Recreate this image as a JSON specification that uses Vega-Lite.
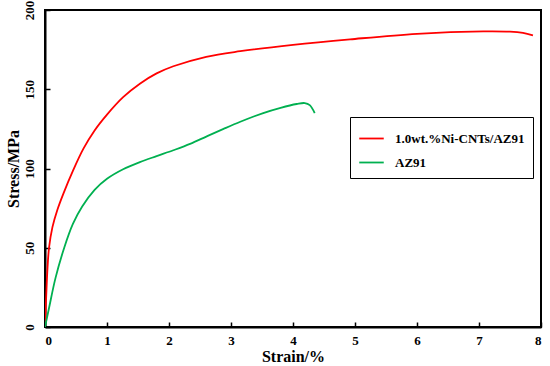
{
  "$schema": "https://vega.github.io/schema/vega-lite/v6.json",
  "width": 496,
  "height": 317,
  "autosize": {"type": "none"},
  "padding": {"left": 45, "top": 10, "right": 9, "bottom": 39},
  "config": {
    "view": {"stroke": "black", "strokeWidth": 2},
    "font": "Liberation Serif",
    "axis": {
      "grid": false,
      "domainColor": "black",
      "domainWidth": 2,
      "tickColor": "black",
      "tickWidth": 1.5,
      "tickSize": -5,
      "labelFont": "Liberation Serif",
      "labelFontWeight": "bold",
      "labelFontSize": 13,
      "labelColor": "black",
      "titleFont": "Liberation Serif",
      "titleFontWeight": "bold",
      "titleFontSize": 16,
      "titleColor": "black"
    }
  },
  "data": {
    "values": [
      {"strain": 0, "stress": 0, "series": "1.0wt.%Ni-CNTs/AZ91"},
      {"strain": 0.02, "stress": 20, "series": "1.0wt.%Ni-CNTs/AZ91"},
      {"strain": 0.04, "stress": 37, "series": "1.0wt.%Ni-CNTs/AZ91"},
      {"strain": 0.065, "stress": 50, "series": "1.0wt.%Ni-CNTs/AZ91"},
      {"strain": 0.12, "stress": 63, "series": "1.0wt.%Ni-CNTs/AZ91"},
      {"strain": 0.2, "stress": 74, "series": "1.0wt.%Ni-CNTs/AZ91"},
      {"strain": 0.3, "stress": 84.5, "series": "1.0wt.%Ni-CNTs/AZ91"},
      {"strain": 0.45, "stress": 98.5, "series": "1.0wt.%Ni-CNTs/AZ91"},
      {"strain": 0.62, "stress": 112.5, "series": "1.0wt.%Ni-CNTs/AZ91"},
      {"strain": 0.8, "stress": 124, "series": "1.0wt.%Ni-CNTs/AZ91"},
      {"strain": 1.0, "stress": 134, "series": "1.0wt.%Ni-CNTs/AZ91"},
      {"strain": 1.26, "stress": 145, "series": "1.0wt.%Ni-CNTs/AZ91"},
      {"strain": 1.53, "stress": 153.5, "series": "1.0wt.%Ni-CNTs/AZ91"},
      {"strain": 1.8, "stress": 160, "series": "1.0wt.%Ni-CNTs/AZ91"},
      {"strain": 2.07, "stress": 164.5, "series": "1.0wt.%Ni-CNTs/AZ91"},
      {"strain": 2.6, "stress": 170.5, "series": "1.0wt.%Ni-CNTs/AZ91"},
      {"strain": 3.15, "stress": 174, "series": "1.0wt.%Ni-CNTs/AZ91"},
      {"strain": 4.0, "stress": 178, "series": "1.0wt.%Ni-CNTs/AZ91"},
      {"strain": 4.92, "stress": 181.5, "series": "1.0wt.%Ni-CNTs/AZ91"},
      {"strain": 6.0, "stress": 185, "series": "1.0wt.%Ni-CNTs/AZ91"},
      {"strain": 7.07, "stress": 186.5, "series": "1.0wt.%Ni-CNTs/AZ91"},
      {"strain": 7.5, "stress": 186.3, "series": "1.0wt.%Ni-CNTs/AZ91"},
      {"strain": 7.71, "stress": 185.5, "series": "1.0wt.%Ni-CNTs/AZ91"},
      {"strain": 7.87, "stress": 184, "series": "1.0wt.%Ni-CNTs/AZ91"},
      {"strain": 0, "stress": 0, "series": "AZ91"},
      {"strain": 0.065, "stress": 12, "series": "AZ91"},
      {"strain": 0.17, "stress": 31, "series": "AZ91"},
      {"strain": 0.31, "stress": 50, "series": "AZ91"},
      {"strain": 0.45, "stress": 65, "series": "AZ91"},
      {"strain": 0.6, "stress": 76, "series": "AZ91"},
      {"strain": 0.8, "stress": 86.5, "series": "AZ91"},
      {"strain": 1.0, "stress": 93.5, "series": "AZ91"},
      {"strain": 1.26, "stress": 99.5, "series": "AZ91"},
      {"strain": 1.53, "stress": 104, "series": "AZ91"},
      {"strain": 1.8, "stress": 107.8, "series": "AZ91"},
      {"strain": 2.07, "stress": 111.5, "series": "AZ91"},
      {"strain": 2.34, "stress": 115.5, "series": "AZ91"},
      {"strain": 2.61, "stress": 120.3, "series": "AZ91"},
      {"strain": 2.88, "stress": 125, "series": "AZ91"},
      {"strain": 3.15, "stress": 129.5, "series": "AZ91"},
      {"strain": 3.52, "stress": 135, "series": "AZ91"},
      {"strain": 3.8, "stress": 138.3, "series": "AZ91"},
      {"strain": 4.06, "stress": 140.7, "series": "AZ91"},
      {"strain": 4.19, "stress": 141.3, "series": "AZ91"},
      {"strain": 4.27, "stress": 140, "series": "AZ91"},
      {"strain": 4.35, "stress": 135, "series": "AZ91"}
    ]
  },
  "mark": {"type": "line", "strokeWidth": 1.8, "interpolate": "catmull-rom", "clip": true},
  "encoding": {
    "x": {
      "field": "strain", "type": "quantitative", "title": "Strain/%",
      "scale": {"domain": [0, 8], "nice": false},
      "axis": {"values": [0, 1, 2, 3, 4, 5, 6, 7, 8], "labelPadding": 12, "titlePadding": 1}
    },
    "y": {
      "field": "stress", "type": "quantitative", "title": "Stress/MPa",
      "scale": {"domain": [0, 200], "nice": false},
      "axis": {"values": [0, 50, 100, 150, 200], "labelAngle": -90, "labelAlign": "center", "labelBaseline": "bottom", "labelPadding": 14, "titlePadding": 2}
    },
    "color": {
      "field": "series", "type": "nominal",
      "scale": {"domain": ["1.0wt.%Ni-CNTs/AZ91", "AZ91"], "range": ["#FF0000", "#00B050"]},
      "legend": {
        "title": null,
        "orient": "none",
        "legendX": 305,
        "legendY": 107,
        "symbolType": "stroke",
        "symbolSize": 600,
        "symbolStrokeWidth": 1.8,
        "labelFont": "Liberation Serif",
        "labelFontWeight": "bold",
        "labelFontSize": 13,
        "labelColor": "black",
        "labelOffset": 10,
        "strokeColor": "black",
        "padding": 8,
        "rowPadding": 3,
        "fillColor": "white"
      }
    }
  }
}
